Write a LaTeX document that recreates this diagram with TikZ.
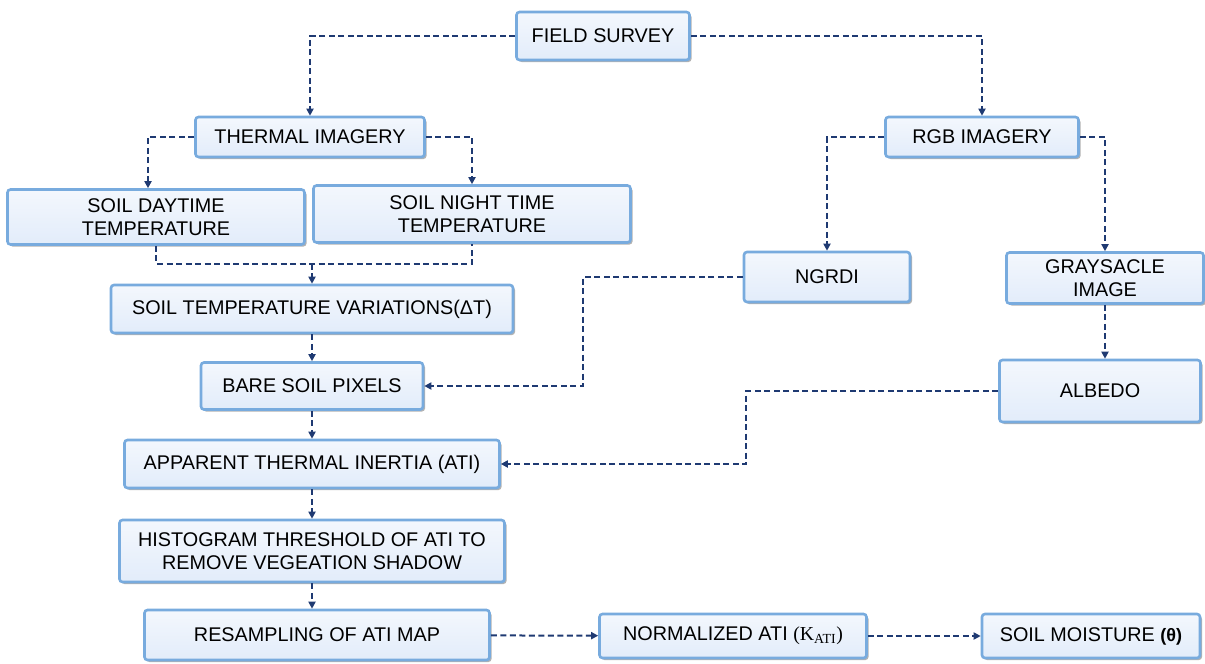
\documentclass[tikz,border=0pt]{standalone}
\usepackage{fontspec}
\setmainfont{Liberation Sans}
\newfontfamily\serifface{Liberation Serif}
\usetikzlibrary{arrows.meta, shadows, calc}
\definecolor{BoxFill}{HTML}{E2ECFA}
\definecolor{BoxEdge}{HTML}{78ABDE}
\definecolor{LinkNavy}{HTML}{1F3A72}
\tikzset{
  flowbox/.style={rectangle, rounded corners=3pt, draw=BoxEdge, line width=2.6pt,
                  top color=BoxFill!40, bottom color=BoxFill,
                  drop shadow={shadow xshift=2pt, shadow yshift=-2pt, fill=black!55, opacity=0.55},
                  minimum width=#1, inner sep=2pt, align=center, text=black,
                  font=\fontsize{19.8}{23.5}\selectfont},
  line/.style={draw=LinkNavy, line width=2pt, dash pattern=on 6pt off 3.5pt},
  link/.style={line, -{Triangle[length=7pt, width=7pt]}},
}

\begin{document}
\begin{tikzpicture}[x=1pt, y=-1pt]
  \useasboundingbox (0,0) rectangle (1205,664);

  % survey and the two image sources
  \node[flowbox=173pt, minimum height=48pt] (fs) at (603,36) {FIELD SURVEY};
  \node[flowbox=229pt, minimum height=40pt] (thr) at (310,137) {THERMAL IMAGERY};
  \node[flowbox=193pt, minimum height=40pt] (rgb) at (982,137) {RGB IMAGERY};

  % thermal branch
  \node[flowbox=297pt, minimum height=55pt] (day) at (156,217) {SOIL DAYTIME\\TEMPERATURE};
  \node[flowbox=317pt, minimum height=57pt] (night) at (472,214) {SOIL NIGHT TIME\\TEMPERATURE};
  \node[flowbox=402pt, minimum height=48pt] (var) at (312,309) {SOIL TEMPERATURE VARIATIONS(ΔT)};
  \node[flowbox=222pt, minimum height=47pt] (bare) at (312,386) {BARE SOIL PIXELS};
  \node[flowbox=375pt, minimum height=48pt] (ati) at (312,464) {APPARENT THERMAL INERTIA (ATI)};
  \node[flowbox=385pt, minimum height=62pt] (hist) at (312,551) {HISTOGRAM THRESHOLD OF ATI TO\\REMOVE VEGEATION SHADOW};
  \node[flowbox=345pt, minimum height=50pt] (res) at (317,635) {RESAMPLING OF ATI MAP};

  % rgb branch
  \node[flowbox=166pt, minimum height=50pt] (ngrdi) at (827,277) {NGRDI};
  \node[flowbox=197pt, minimum height=51pt] (gray) at (1105,278) {GRAYSACLE\\IMAGE};
  \node[flowbox=201pt, minimum height=62pt] (alb) at (1100,391) {ALBEDO};

  % outputs
  \node[flowbox=267pt, minimum height=44pt] (norm) at (733,636)
       {NORMALIZED ATI {\serifface(K\textsubscript{ATI})}};
  \node[flowbox=218pt, minimum height=44pt] (sm) at (1091,636)
       {SOIL MOISTURE {\fontsize{18}{20}\selectfont\bfseries(θ)}};

  \coordinate (mrg) at ($(var.north)+(0,-20)$);

  \draw[link] (fs.west) -| (thr.north);
  \draw[link] (fs.east) -| (rgb.north);
  \draw[link] (thr.west) -| ([xshift=-8pt]day.north);
  \draw[link] (thr.east) -| (night.north);
  \draw[link] (rgb.west) -| (ngrdi.north);
  \draw[link] (rgb.east) -| (gray.north);
  \draw[line] (day.south) |- (mrg) -| (night.south);
  \draw[link] (mrg) -- (var.north);
  \draw[link] (var) -- (bare);
  \draw[link] (ngrdi.west) -- ++(-160,0) |- (bare.east);
  \draw[link] (bare) -- (ati);
  \draw[link] (gray.south) -- (gray.south |- alb.north);
  \draw[link] (alb.west) -- ++(-252,0) |- (ati.east);
  \draw[link] (ati) -- (hist);
  \draw[link] (hist.south) -- (hist.south |- res.north);
  \draw[link] (res) -- (norm);
  \draw[link] (norm) -- (sm);
\end{tikzpicture}
\end{document}
